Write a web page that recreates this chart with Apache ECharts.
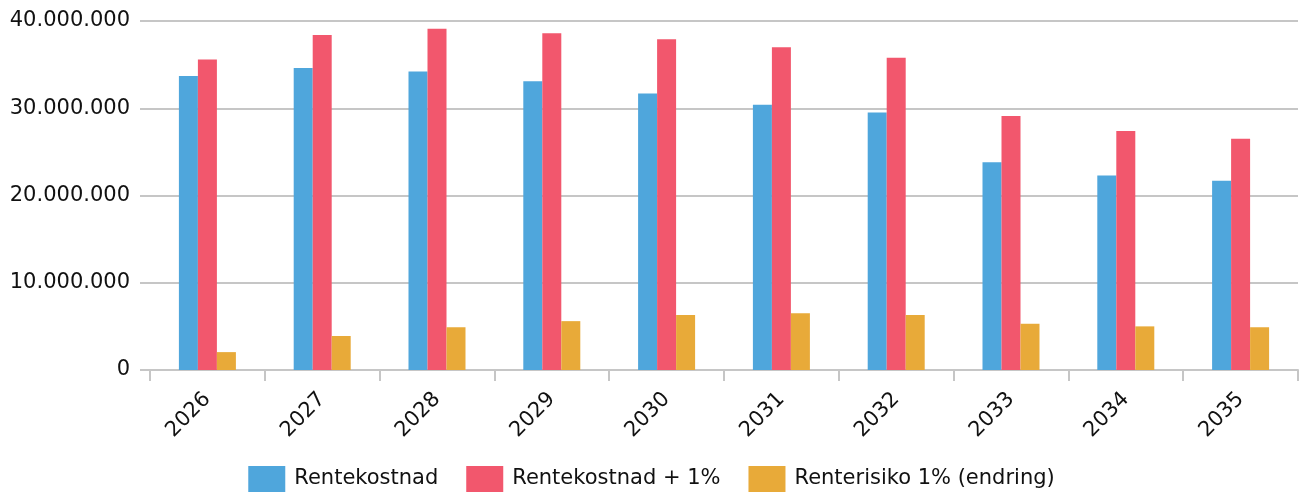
<!DOCTYPE html>
<html>
<head>
<meta charset="utf-8">
<style>
  html, body { margin: 0; padding: 0; background: #fff; }
  #main { width: 1303px; height: 493px; }
</style>
<script src="https://cdn.jsdelivr.net/npm/echarts@6/dist/echarts.min.js"></script>
</head>
<body>
<div id="main"></div>
<script>
var years = ['2026', '2027', '2028', '2029', '2030', '2031', '2032', '2033', '2034', '2035'];
var seriesNames = ['Rentekostnad', 'Rentekostnad + 1%', 'Renterisiko 1% (endring)'];
var rentekostnad = [33700000, 34600000, 34200000, 33100000, 31700000, 30400000, 29500000, 23800000, 22300000, 21700000];
var rentekostnadPluss = [35600000, 38400000, 39100000, 38600000, 37900000, 37000000, 35800000, 29100000, 27400000, 26500000];
var renterisiko = [2050000, 3900000, 4900000, 5600000, 6300000, 6500000, 6300000, 5300000, 5000000, 4900000];

var colors = ['#4fa6dc', '#f2576d', '#e8aa39'];
var gray = '#c6c6c6';
var font = 'DejaVu Sans';

// 40000000 -> 40.000.000
function fmt(v) {
	return String(v).replace(/\B(?=(\d{3})+(?!\d))/g, '.');
}

var chart = echarts.init(document.getElementById('main'));

function bar(name, data) {
	return {
		name: name,
		type: 'bar',
		data: data,
		barWidth: 19,
		barGap: '0%',
		animation: false
	};
}

var option = {
	color: colors,
	animation: false,
	grid: { left: 150, right: 5, top: 21, bottom: 123 },
	legend: {
		bottom: 1,
		left: 'center',
		padding: 0,
		itemWidth: 37,
		itemHeight: 26,
		itemGap: 28,
		icon: 'rect',
		textStyle: { fontFamily: font, fontSize: 21, color: '#111', padding: [0, 0, 0, 4] },
		data: seriesNames
	},
	xAxis: {
		type: 'category',
		data: years,
		axisLine: { lineStyle: { color: gray, width: 2 } },
		axisTick: { show: true, alignWithLabel: false, length: 11, lineStyle: { color: gray, width: 2 } },
		axisLabel: { rotate: 45, fontFamily: font, fontSize: 21, color: '#111', margin: 26 }
	},
	yAxis: {
		type: 'value',
		min: 0,
		max: 40000000,
		interval: 10000000,
		axisLine: { show: false },
		axisTick: { show: true, length: 10, lineStyle: { color: gray, width: 2 } },
		splitLine: { lineStyle: { color: gray, width: 2 } },
		axisLabel: { formatter: fmt, fontFamily: font, fontSize: 21, color: '#111', margin: 20 }
	},
	series: [
		bar(seriesNames[0], rentekostnad),
		bar(seriesNames[1], rentekostnadPluss),
		bar(seriesNames[2], renterisiko)
	]
};

chart.setOption(option);
</script>
</body>
</html>
